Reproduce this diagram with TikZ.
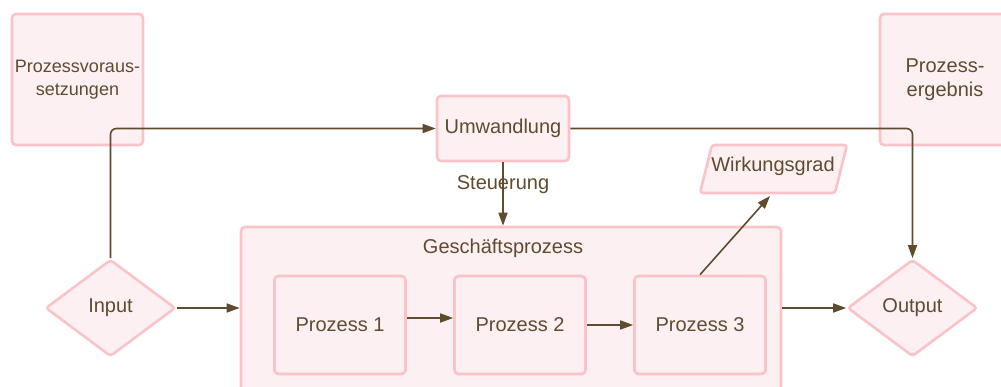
\documentclass[tikz,border=0pt]{standalone}
\usepackage{fontspec}
\setmainfont{Liberation Sans}
\usetikzlibrary{arrows.meta,shapes.geometric}
\definecolor{boxfill}{HTML}{FCF0F3}
\definecolor{boxline}{HTML}{F9C3C7}
\definecolor{ink}{HTML}{5F4B2D}
\tikzset{
  box/.style={draw=boxline, fill=boxfill, line width=2.6pt, rounded corners=4pt,
    inner sep=2pt, align=center, text=ink, font=\fontsize{20}{24}\selectfont},
  decision/.style={box, diamond, inner sep=0pt, rounded corners=3pt},
  lbl/.style={text=ink, font=\fontsize{20}{24}\selectfont, inner sep=0pt},
  conn/.style={draw=ink, line width=1.6pt, -{Triangle[length=13pt,width=9pt]}},
  plainconn/.style={draw=ink, line width=1.6pt},
}
\begin{document}
\begin{tikzpicture}[x=1pt,y=-1pt]
\useasboundingbox (0,0) rectangle (1001,387);

% frame boxes
\node[box, minimum width=131pt, minimum height=131pt, font=\fontsize{18}{23}\selectfont]
  (pv) at (77.5,79.5) {Prozessvoraus-\\setzungen};
\node[box, minimum width=130pt, minimum height=131pt]
  (pe) at (945,79.5) {Prozess-\\ergebnis};
\node[box, minimum width=132pt, minimum height=65pt] (umw) at (503,128.5) {Umwandlung};

% business process container
\node[box, minimum width=540pt, minimum height=180pt] (gp) at (511,317) {};
\node[lbl] (gpt) at (503,248) {Geschäftsprozess};

\node[box, minimum width=131pt, minimum height=98pt] (p1) at (340,325) {Prozess 1};
\node[box, minimum width=131pt, minimum height=98pt] (p2) at (520,325) {Prozess 2};
\node[box, minimum width=131pt, minimum height=98pt] (p3) at (700,325) {Prozess 3};

% input / output
\node[decision, minimum width=130pt, minimum height=97pt] (in) at (110.5,308) {Input};
\node[decision, minimum width=130pt, minimum height=97pt] (out) at (912.5,308) {Output};

% efficiency (parallelogram)
\draw[draw=boxline, fill=boxfill, line width=2.6pt, rounded corners=3pt]
  (712,145) -- (847,145) -- (835,193) -- (700,193) -- cycle;
\node[lbl] (wg) at (773,166) {Wirkungsgrad};
\coordinate (wgin) at (770,196);

% connectors
\draw[conn, rounded corners=6pt] (in.north) |- (umw.west);
\draw[conn, rounded corners=6pt] (umw.east) -| (out.north);
\draw[conn] (umw.south) -- (umw.south |- gp.north);
\node[lbl] (st) at (503,185) {Steuerung};
\draw[conn] (in.east) -- (in.east -| gp.west);
\draw[conn] (gp.east |- out.west) -- (out.west);
\draw[conn] ([yshift=7pt]p1.east) -- ([yshift=7pt]p2.west);
\draw[conn] (p2.east) -- (p3.west);
\draw[conn] (p3.north) -- (wgin);
\end{tikzpicture}
\end{document}
